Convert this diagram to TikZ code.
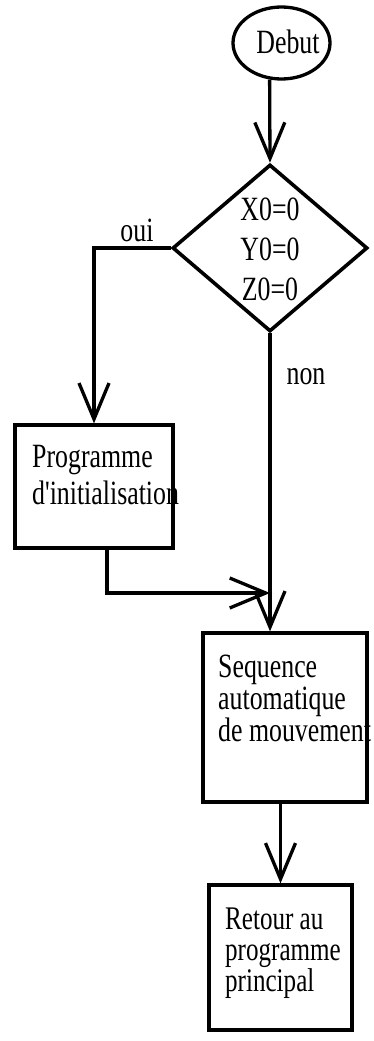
\documentclass[tikz,border=0pt]{standalone}
\usepackage{fontspec}
\setmainfont{Liberation Serif}
\newfontfamily\condserif[FakeStretch=0.76]{Liberation Serif}
\usetikzlibrary{shapes.geometric,arrows.meta}
\begin{document}
\begin{tikzpicture}[x=1pt,y=-1pt,
  flow/.style={line width=3.3pt, -{Straight Barb[length=36pt,width=30pt]}},
  shapeline/.style={draw, line width=3.3pt, inner sep=0pt},
  txt/.style={inner sep=0pt, align=left},
  fprog/.style={font=\condserif\fontsize{34}{37}\selectfont},
  fseq/.style={font=\condserif\fontsize{34}{32}\selectfont},
  fret/.style={font=\condserif\fontsize{33}{31}\selectfont},
  fcond/.style={font=\condserif\fontsize{34}{40}\selectfont}]
\useasboundingbox (0,0) rectangle (374,1041);

% start
\node[ellipse, shapeline, minimum width=97pt, minimum height=72pt] (debut) at (281.5,43) {};
\node[txt, fcond] (debuttxt) at (288,42) {Debut};

% test on the initial position
\node[diamond, shapeline, line width=3.6pt, minimum width=195pt, minimum height=167pt] (cond) at (270,248) {};
\node[txt, fcond, align=center] (condtxt) at (270,249) {X0=0\\Y0=0\\Z0=0};

% initialisation branch
\node[rectangle, shapeline, minimum width=158pt, minimum height=123pt] (prog) at (94,486.5) {};
\node[txt, fprog, anchor=north west] (progtxt) at (32,445) {Programme\\d\char"27 initialisation};

% automatic sequence
\node[rectangle, shapeline, minimum width=164pt, minimum height=169pt] (seq) at (285,717.5) {};
\node[txt, fseq, anchor=north west] (seqtxt) at (218,655) {Sequence\\automatique\\de mouvement};

% return
\node[rectangle, shapeline, minimum width=143pt, minimum height=145pt] (ret) at (280.5,957.5) {};
\node[txt, fret, anchor=north west] (rettxt) at (225,908) {Retour au\\programme\\principal};

% branch labels
\node[txt, fprog] (oui) at (137,230) {oui};
\node[txt, fprog] (non) at (306,377) {non};

% connectors
\coordinate (merge) at (270,593);
\draw[flow] (debut.252) -- (cond.north);
\draw[flow] (cond.west) -| (prog.north);
\draw[flow] ([xshift=13pt]prog.south) |- (merge);
\draw[flow] (cond.south) -- (cond.south |- seq.north);
\draw[flow] (seq.south -| ret.north) -- (ret.north);
\end{tikzpicture}
\end{document}
